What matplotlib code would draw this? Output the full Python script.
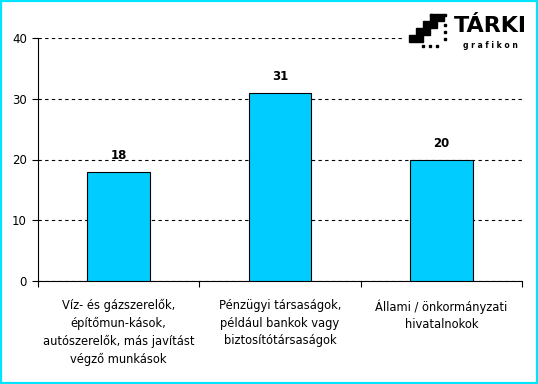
import matplotlib
matplotlib.use('Agg')
import matplotlib.pyplot as plt
from matplotlib.patches import Rectangle

categories = ['Víz- és gázszerelők,\népítőmun-kások,\nautószerelők, más javítást\nvégző munkások',
              'Pénzügyi társaságok,\npéldául bankok vagy\nbiztosítótársaságok',
              'Állami / önkormányzati\nhivatalnokok']
values = [18, 31, 20]
yticks = [0, 10, 20, 30, 40]

fig = plt.figure(figsize=(5.38, 3.84), dpi=100)
# cyan frame
fig.patches.append(Rectangle((0.002, 0.003), 0.996, 0.994, transform=fig.transFigure,
                             fill=False, edgecolor='#00E5FF', linewidth=1.6))
ax = fig.add_axes([38/538, 1-281/384, 484/538, 243/384])

x = list(range(len(values)))
ax.bar(x, values, width=0.39, color='#00CCFF', edgecolor='black', linewidth=0.8, zorder=3)
for xi, v in zip(x, values):
    ax.text(xi, v + 1.6, str(v), ha='center', va='bottom', fontsize=8.5, fontweight='bold')

ax.set_xlim(-0.5, 2.5)
ax.set_ylim(0, 40)
ax.set_yticks(yticks)
ax.yaxis.grid(True, linestyle=(0, (3, 3)), color='black', linewidth=0.8)
ax.set_axisbelow(True)
for s in ['top', 'right']:
    ax.spines[s].set_visible(False)
ax.tick_params(axis='y', direction='out', length=4, labelsize=8.5, pad=4)
ax.set_xticks([-0.5, 0.5, 1.5, 2.5])
ax.set_xticklabels([])
ax.tick_params(axis='x', direction='out', length=4)
for xi, c in zip(x, categories):
    ax.text(xi, -3.0, c, ha='center', va='top', fontsize=8.3, linespacing=1.45)

# logo
fig.patches.append(Rectangle((404/538, 1-50/384), 130/538, 46/384, transform=fig.transFigure,
                             color='white', zorder=5))
fig.text(490/538, 1-26/384, 'TÁRKI', ha='center', va='center', fontsize=16, fontweight='heavy',
         zorder=6)
fig.text(490/538, 1-45/384, 'g r a f i k o n', ha='center', va='center', fontsize=5.5,
         fontweight='bold', zorder=6)
steps = [(409, 42), (416, 42), (416, 35), (423, 35), (423, 28), (430, 28), (430, 21), (437, 21)]
for px, py in steps:
    fig.patches.append(Rectangle((px/538, 1-py/384), 7/538, 7/384, transform=fig.transFigure,
                                 color='black', zorder=6))
for px, py in [(422, 47), (429, 47), (436, 47), (444, 40), (444, 33), (444, 26), (430, 16), (444, 16)]:
    fig.patches.append(Rectangle((px/538, 1-py/384), 2/538, 2/384, transform=fig.transFigure,
                                 color='black', zorder=6))

fig.savefig('out.png', dpi=100)
